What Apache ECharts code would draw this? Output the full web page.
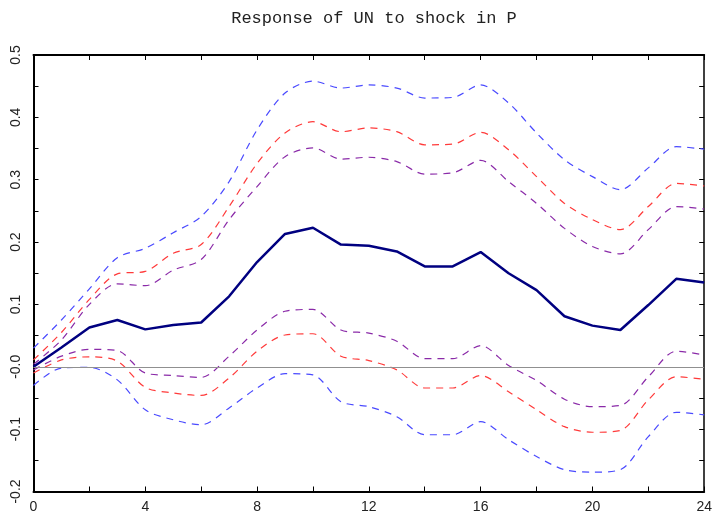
<!DOCTYPE html>
<html><head><meta charset="utf-8">
<script src="https://cdn.jsdelivr.net/npm/echarts@6/dist/echarts.min.js"></script>
<style>html,body{margin:0;padding:0;background:#fff}#c{width:715px;height:519px}</style>
</head><body><div id="c"></div>
<script>
const horizons = [0,1,2,3,4,5,6,7,8,9,10,11,12,13,14,15,16,17,18,19,20,21,22,23,24];
const median   = [0,0.031,0.063,0.075,0.060,0.067,0.071,0.113,0.168,0.213,0.223,0.196,0.194,0.185,0.161,0.161,0.184,0.150,0.123,0.081,0.066,0.059,0.099,0.141,0.135];
const blueUp   = [0.030,0.075,0.125,0.175,0.190,0.215,0.241,0.297,0.380,0.439,0.458,0.447,0.452,0.447,0.431,0.432,0.452,0.423,0.375,0.332,0.305,0.284,0.319,0.353,0.349];
const redUp    = [0.011,0.055,0.108,0.149,0.153,0.182,0.196,0.257,0.326,0.375,0.393,0.377,0.383,0.377,0.356,0.357,0.376,0.348,0.305,0.262,0.236,0.220,0.257,0.294,0.290];
const purpleUp = [0.004,0.043,0.100,0.133,0.130,0.155,0.172,0.236,0.289,0.337,0.351,0.333,0.336,0.329,0.309,0.311,0.331,0.297,0.262,0.222,0.193,0.181,0.220,0.257,0.253];
const purpleLo = [-0.005,0.017,0.028,0.026,-0.010,-0.014,-0.017,0.017,0.059,0.089,0.092,0.059,0.054,0.041,0.013,0.013,0.034,0.002,-0.022,-0.052,-0.064,-0.062,-0.016,0.025,0.019];
const redLo    = [-0.010,0.011,0.016,0.009,-0.033,-0.042,-0.046,-0.018,0.025,0.051,0.053,0.017,0.010,-0.005,-0.034,-0.034,-0.014,-0.040,-0.069,-0.096,-0.105,-0.102,-0.053,-0.016,-0.020];
const blueLo   = [-0.030,-0.002,-0.001,-0.021,-0.069,-0.085,-0.093,-0.066,-0.034,-0.011,-0.013,-0.056,-0.064,-0.080,-0.109,-0.109,-0.088,-0.117,-0.144,-0.165,-0.169,-0.165,-0.112,-0.073,-0.077];
const xTickLabels = ['0','4','8','12','16','20','24'];
const yTickLabels = {'-0.2':'-0.2','-0.1':'-0.1','0':'-0.0','0.1':'0.1','0.2':'0.2','0.3':'0.3','0.4':'0.4','0.5':'0.5'};
const titleText = 'Response of UN to shock in P';

const pairs = arr => horizons.map((h,i)=>[h,arr[i]]);
const font = '"Liberation Sans", sans-serif';
const chart = echarts.init(document.getElementById('c'));
function band(arr,color){
  return {type:'line',data:pairs(arr),symbol:'none',smooth:0.3,
    lineStyle:{color:color,width:1.2,type:[7,6]},z:2,silent:true};
}
chart.setOption({
  animation:false,
  title:{text:titleText,left:369,textAlign:'center',top:5,
    textStyle:{fontFamily:'"Liberation Mono", monospace',fontWeight:'normal',fontSize:17,color:'#222'}},
  grid:{left:33.5,right:10,top:55,bottom:27.5,show:false},
  xAxis:[
    {type:'value',min:0,max:24,interval:2,position:'bottom',
     axisLine:{show:true,onZero:false,lineStyle:{color:'#000',width:2}},
     axisTick:{inside:true,length:5,lineStyle:{color:'#000',width:1}},
     axisLabel:{formatter:v=>{const s=String(v);return xTickLabels.includes(s)?s:'';},
       fontFamily:font,fontSize:14,color:'#222',margin:9},
     splitLine:{show:false}},
    {type:'value',min:0,max:24,interval:2,position:'top',
     axisLine:{show:true,onZero:false,lineStyle:{color:'#000',width:2}},
     axisTick:{inside:true,length:5,lineStyle:{color:'#000',width:1}},
     axisLabel:{show:false},splitLine:{show:false}}
  ],
  yAxis:[
    {type:'value',min:-0.2,max:0.5,interval:0.05,position:'left',
     axisLine:{show:true,onZero:false,lineStyle:{color:'#000',width:2}},
     axisTick:{inside:true,length:5,lineStyle:{color:'#000',width:1}},
     axisLabel:{rotate:90,formatter:v=>{const k=String(Math.round(v*10)/10);return Math.abs(v*10-Math.round(v*10))<1e-6?(yTickLabels[k]||''):'';},
       fontFamily:font,fontSize:14,color:'#222',margin:10},
     splitLine:{show:false}},
    {type:'value',min:-0.2,max:0.5,interval:0.05,position:'right',
     axisLine:{show:true,onZero:false,lineStyle:{color:'#000',width:1.5}},
     axisTick:{inside:true,length:5,lineStyle:{color:'#000',width:1}},
     axisLabel:{show:false},splitLine:{show:false}}
  ],
  series:[
    band(blueUp,'#4a4aff'),
    band(redUp,'#ff3a3a'),
    band(purpleUp,'#8a2aa8'),
    band(purpleLo,'#8a2aa8'),
    band(redLo,'#ff3a3a'),
    band(blueLo,'#4a4aff'),
    {type:'line',data:pairs(median),symbol:'none',z:3,
     lineStyle:{color:'#000080',width:2.5},
     markLine:{silent:true,symbol:'none',label:{show:false},
       lineStyle:{color:'#909090',width:1,type:'solid'},data:[{yAxis:0}]}}
  ]
});
</script></body></html>
